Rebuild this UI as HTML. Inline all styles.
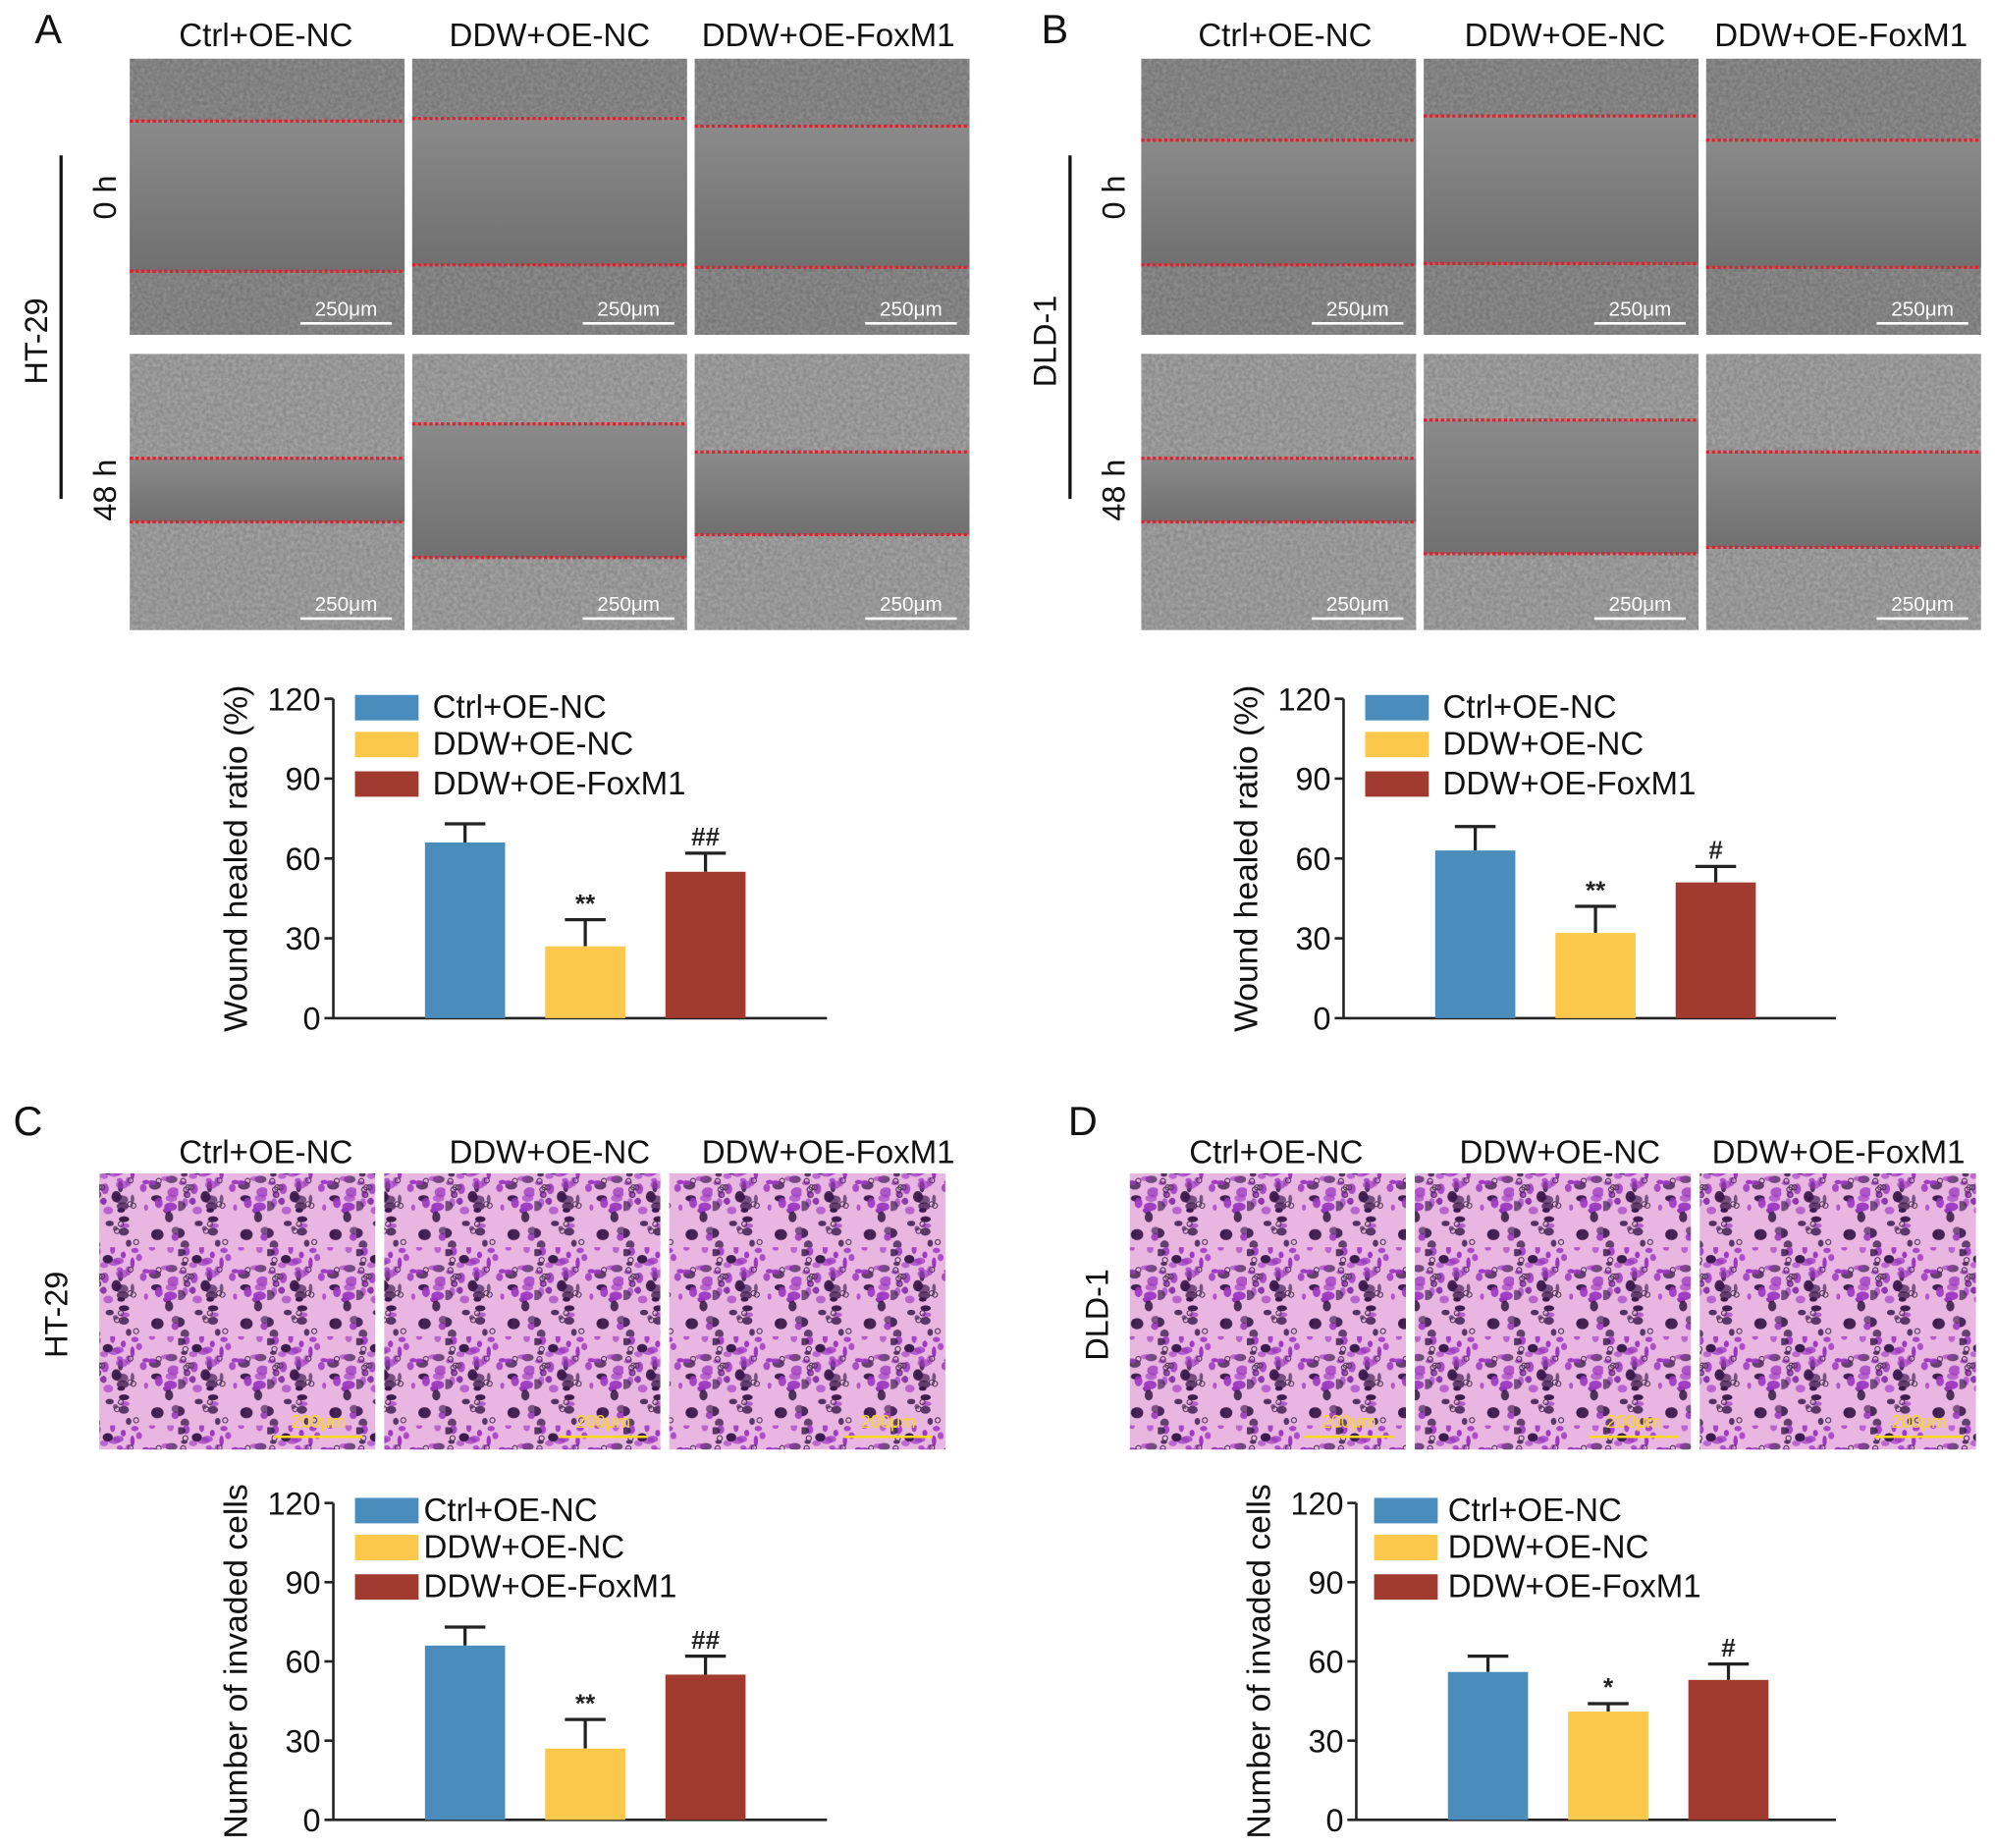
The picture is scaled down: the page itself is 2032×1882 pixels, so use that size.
<!DOCTYPE html>
<html><head><meta charset="utf-8">
<style>
html,body{margin:0;padding:0;background:#fff;}
svg{display:block;font-family:"Liberation Sans",Arial,sans-serif;}
</style></head>
<body>
<svg id="fig" width="2032" height="1882" viewBox="0 0 1568 1452" xmlns="http://www.w3.org/2000/svg">
<defs>
  <filter id="noise" x="0" y="0" width="100%" height="100%">
    <feTurbulence type="fractalNoise" baseFrequency="0.35" numOctaves="2" seed="3"/>
    <feColorMatrix type="matrix" values="0 0 0 0 0  0 0 0 0 0  0 0 0 0 0  0 0 0 0.55 -0.1"/>
    <feComposite in2="SourceGraphic" operator="in"/>
  </filter>
  <linearGradient id="gapg" x1="0" y1="0" x2="0" y2="1">
    <stop offset="0" stop-color="#8a8a8a"/><stop offset="1" stop-color="#707070"/>
  </linearGradient>
  <pattern id="cells" width="70" height="70" patternUnits="userSpaceOnUse"></pattern>
</defs>
<g id="root"></g>
</svg>
<script>
// ---- chart data ----
const categories = ["Ctrl+OE-NC","DDW+OE-NC","DDW+OE-FoxM1"];
const colors = ["#4a8dbd","#fcc84c","#a13b30"];
const yTicks = [0,30,60,90,120];
const woundHT29 = [66,27,55];
const woundHT29Err = [73,37,62];
const woundHT29Sig = ["","**","##"];
const woundDLD1 = [63,32,51];
const woundDLD1Err = [72,42,57];
const woundDLD1Sig = ["","**","#"];
const invHT29 = [66,27,55];
const invHT29Err = [73,38,62];
const invHT29Sig = ["","**","##"];
const invDLD1 = [56,41,53];
const invDLD1Err = [62,44,59];
const invDLD1Sig = ["","*","#"];

const NS="http://www.w3.org/2000/svg";
const root=document.getElementById('root');
function el(tag,attrs,parent,text){const e=document.createElementNS(NS,tag);for(const k in attrs)e.setAttribute(k,attrs[k]);if(text!==undefined)e.textContent=text;(parent||root).appendChild(e);return e;}

// cell pattern (decorative texture)
(function(){const p=document.getElementById('cells');let s=7;const r=()=>{s=(s*9301+49297)%233280;return s/233280;};
 el('rect',{x:0,y:0,width:70,height:70,fill:'#e9b6e2'},p);
 for(let i=0;i<60;i++){const dark=r()<0.45;el('ellipse',{cx:(r()*70).toFixed(1),cy:(r()*70).toFixed(1),rx:(1.5+r()*3.5).toFixed(1),ry:(1.5+r()*3).toFixed(1),fill:dark?'#3a1a4a':'#9b36c0',opacity:(0.6+r()*0.4).toFixed(2)},p);}
 for(let i=0;i<14;i++){el('circle',{cx:(r()*70).toFixed(1),cy:(r()*70).toFixed(1),r:2,fill:'none',stroke:'#4a3050','stroke-width':0.8},p);}
})();

function text(x,y,t,size,anchor,name,extra){const a={x:x,y:y,'font-size':size,'text-anchor':anchor||'middle',fill:'#111'};Object.assign(a,extra||{});const e=el('text',a,null,t);return e;}
function vtext(cx,cy,t,size,name){return text(0,0,t,size,'middle',name,{transform:`translate(${cx+size*0.36},${cy}) rotate(-90)`});}

function headers(xs,y,prefix){categories.forEach((c,i)=>{text(xs[i],y,c,25.5,'middle',prefix+'-header-'+(i+1));});}

function woundTile(x,y,l1,l2,name,bright){
  const g=el('g',{});
  el('rect',{x:x,y:y,width:216,height:217,fill:bright},g);
  el('rect',{x:x,y:y,width:216,height:217,fill:'#fff',filter:'url(#noise)',opacity:0.5},g);
  el('rect',{x:x,y:l1,width:216,height:l2-l1,fill:'url(#gapg)'},g);
  [l1,l2].forEach(ly=>el('line',{x1:x,y1:ly,x2:x+216,y2:ly,stroke:'#e0202a','stroke-width':2.5,'stroke-dasharray':'2.5 2'},g));
  el('text',{x:x+170,y:y+202,'font-size':16,'text-anchor':'middle',fill:'#fff'},g,'250μm');
  el('line',{x1:x+134,y1:y+208,x2:x+206,y2:y+208,stroke:'#fff','stroke-width':2},g);
}
function transTile(x,y,name){
  const g=el('g',{});
  el('rect',{x:x,y:y,width:217,height:217,fill:'url(#cells)'},g);
  el('text',{x:x+172,y:y+200,'font-size':14,'text-anchor':'middle',fill:'#f6d820'},g,'200μm');
  el('line',{x1:x+137,y1:y+207,x2:x+207,y2:y+207,stroke:'#f6d820','stroke-width':2},g);
}

function woundPanel(label,lx,tilesX,hx,lines,vx,cell,prefix){
  text(lx,34,label,32,'middle','panel-'+label.toLowerCase()+'-label');
  headers(hx,36,prefix);
  tilesX.forEach((tx,i)=>{woundTile(tx,46,lines[0][i][0],lines[0][i][1],prefix+'-0h-tile-'+(i+1),'#8e8e8e');
    woundTile(tx,278,lines[1][i][0],lines[1][i][1],prefix+'-48h-tile-'+(i+1),'#a5a5a5');});
  const vl=el('line',{x1:vx,y1:122,x2:vx,y2:392,stroke:'#111','stroke-width':2.5});
  vtext(vx+34,155,'0 h',25,prefix+'-0h-label');
  vtext(vx+34,385,'48 h',25,prefix+'-48h-label');
  vtext(vx-20,268,cell,25,prefix+'-cell-line-label');
}

function barChart(prefix,ax,top,bottom,xEnd,vals,errs,sigs,ytitle,legX,legTop,legTxtX){
  const y=v=>bottom-(v/120)*(bottom-top);
  const g=el('g',{});
  const ya=el('line',{x1:ax,y1:top,x2:ax,y2:bottom,stroke:'#222','stroke-width':2},g);
  const xa=el('line',{x1:ax,y1:bottom,x2:xEnd,y2:bottom,stroke:'#222','stroke-width':2},g);
  yTicks.forEach(t=>{el('line',{x1:ax-7,y1:y(t),x2:ax,y2:y(t),stroke:'#222','stroke-width':2},g);
    const tl=el('text',{x:ax-10,y:y(t)+9,'font-size':25,'text-anchor':'end',fill:'#111'},g,String(t));});
  const tt=el('text',{x:0,y:0,'font-size':26,'text-anchor':'middle',fill:'#111',transform:`translate(${ax-68},${(top+bottom)/2}) rotate(-90)`},g,ytitle);
  
  const bw=63, step=94.5, x0=ax+72;
  vals.forEach((v,i)=>{const bx=x0+i*step;const cx=bx+bw/2;
    el('line',{x1:cx,y1:y(errs[i]),x2:cx,y2:y(v),stroke:'#222','stroke-width':2.5},g);
    el('line',{x1:cx-16,y1:y(errs[i]),x2:cx+16,y2:y(errs[i]),stroke:'#222','stroke-width':2.5},g);
    const b=el('rect',{x:bx,y:y(v),width:bw,height:bottom-y(v),fill:colors[i]},g);
    if(sigs[i]){const s=el('text',{x:cx,y:y(errs[i])-6,'font-size':20,'font-weight':'bold','text-anchor':'middle',fill:'#222'},g,sigs[i]);}
  });
  const lo=[0,29,60];
  categories.forEach((c,i)=>{const lg=el('g',{},g);
    el('rect',{x:legX,y:legTop+lo[i],width:50,height:20,fill:colors[i]},lg);
    el('text',{x:legTxtX,y:legTop+lo[i]+18,'font-size':25.5,fill:'#111'},lg,c);});
}

const lineA=[[[95,213],[93,208],[99,210]],[[360,410],[333,438],[355,420]]];
const lineB=[[[110,208],[91,207],[110,210]],[[360,410],[330,435],[355,430]]];
woundPanel('A',38,[102,324,546],[209,432,651],lineA,48,'HT-29','ht29-wound');
woundPanel('B',829,[897,1119,1341],[1010,1230,1447],lineB,841,'DLD-1','dld1-wound');

barChart('ht29-wound',262,549,800,650,woundHT29,woundHT29Err,woundHT29Sig,'Wound healed ratio (%)',279,546,340);
barChart('dld1-wound',1056,549,800,1443,woundDLD1,woundDLD1Err,woundDLD1Sig,'Wound healed ratio (%)',1073,546,1134);

text(22,892,'C',32,'middle','panel-c-label');
text(851,892,'D',32,'middle','panel-d-label');
headers([209,432,651],914,'ht29-invasion');
headers([1003,1226,1445],914,'dld1-invasion');
[78,302,526].forEach((x,i)=>transTile(x,922,'ht29-transwell-tile-'+(i+1)));
[888,1112,1336].forEach((x,i)=>transTile(x,922,'dld1-transwell-tile-'+(i+1)));
vtext(44,1033,'HT-29',25,'ht29-invasion-cell-label');
vtext(862,1033,'DLD-1',25,'dld1-invasion-cell-label');

barChart('ht29-invasion',262,1181,1430,650,invHT29,invHT29Err,invHT29Sig,'Number of invaded cells',279,1177,333);
barChart('dld1-invasion',1066,1181,1430,1443,invDLD1,invDLD1Err,invDLD1Sig,'Number of invaded cells',1080,1177,1138);
</script>
</body></html>
